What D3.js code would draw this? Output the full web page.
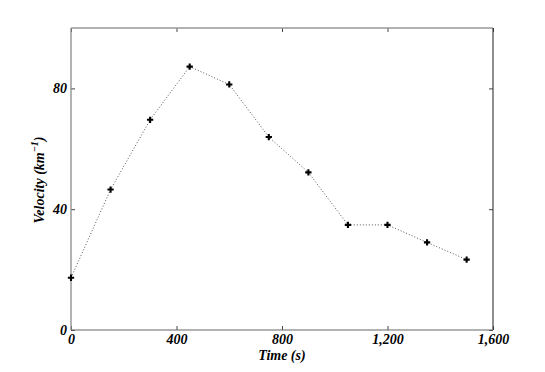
<!DOCTYPE html>
<html><head><meta charset="utf-8">
<script src="https://cdn.jsdelivr.net/npm/d3@7"></script>
<style>
body{margin:0;background:#fff;}
svg text{font-family:"Liberation Serif","Times New Roman",Times,serif !important;font-weight:bold;font-style:italic;}
</style></head>
<body><svg id="c" width="545" height="372"></svg>
<script>
const times = [0,150,300,450,600,750,900,1050,1200,1350,1500];
const velocity = [17.3,46.5,69.6,87.2,81.3,63.9,52.2,34.8,34.8,29.0,23.3];
const xTicks = [0,400,800,1200,1600];
const yTicks = [0,40,80];
const xLabel = "Time (s)";

const svg = d3.select("#c");
const m = {l:71, r:493, t:28, b:330};
const x = d3.scaleLinear().domain([0,1600]).range([m.l,m.r]);
const y = d3.scaleLinear().domain([0,100]).range([m.b,m.t]);
svg.append("rect").attr("width",545).attr("height",372).attr("fill","#fff");

const fmt = d3.format(",");
const gx = svg.append("g").attr("transform",`translate(0,${m.b})`)
  .call(d3.axisBottom(x).tickValues(xTicks).tickFormat(fmt).tickSizeInner(-4).tickSizeOuter(0).tickPadding(4));
const gxt = svg.append("g").attr("transform",`translate(0,${m.t})`)
  .call(d3.axisTop(x).tickValues(xTicks).tickFormat("").tickSizeInner(-4).tickSizeOuter(0));
const gy = svg.append("g").attr("transform",`translate(${m.l},0)`)
  .call(d3.axisLeft(y).tickValues(yTicks).tickSizeInner(-4).tickSizeOuter(0).tickPadding(4));
const gyr = svg.append("g").attr("transform",`translate(${m.r},0)`)
  .call(d3.axisRight(y).tickValues(yTicks).tickFormat("").tickSizeInner(-4).tickSizeOuter(0));
[gx,gxt,gy,gyr].forEach(g=>{
  g.attr("font-family",null).attr("font-size",14);
  g.select(".domain").remove();
  g.selectAll(".tick line").attr("stroke","#444").attr("stroke-width",1);
  g.selectAll("text").attr("font-size",14).attr("fill","#000");
});
gy.selectAll(".tick text").attr("dy","0.32em");
// frame
svg.append("line").attr("x1",m.l).attr("x2",m.l).attr("y1",m.t).attr("y2",m.b).attr("stroke","#8a8a8a").attr("stroke-width",1.3);
svg.append("line").attr("x1",m.l).attr("x2",m.r).attr("y1",m.t).attr("y2",m.t).attr("stroke","#999").attr("stroke-width",1.3);
svg.append("line").attr("x1",m.r).attr("x2",m.r).attr("y1",m.t).attr("y2",m.b).attr("stroke","#333").attr("stroke-width",1.1);
svg.append("line").attr("x1",m.l).attr("x2",m.r).attr("y1",m.b).attr("y2",m.b).attr("stroke","#666").attr("stroke-width",1.1);

// line
const pts = times.map((t,i)=>[t,velocity[i]]);
svg.append("path").datum(pts)
  .attr("d",d3.line().x(d=>x(d[0])).y(d=>y(d[1])))
  .attr("fill","none").attr("stroke","#555").attr("stroke-width",1)
  .attr("stroke-dasharray","1,2");
// markers
const sym = d3.symbol().type(d3.symbolCross).size(22);
svg.selectAll(".mk").data(pts).enter().append("path")
  .attr("transform",d=>`translate(${x(d[0])},${y(d[1])})`)
  .attr("d",sym).attr("fill","#000");

// labels
svg.append("text").attr("x",(m.l+m.r)/2).attr("y",360).attr("text-anchor","middle")
  .attr("font-size",14).attr("fill","#000").text(xLabel);
const yl = svg.append("text").attr("transform",`translate(44,180) rotate(-90)`)
  .attr("text-anchor","middle").attr("font-size",14).attr("fill","#000");
yl.append("tspan").text("Velocity (km");
yl.append("tspan").attr("font-size",10).attr("dy","-6").text("\u22121");
yl.append("tspan").attr("dy","6").text(")");
</script></body></html>
